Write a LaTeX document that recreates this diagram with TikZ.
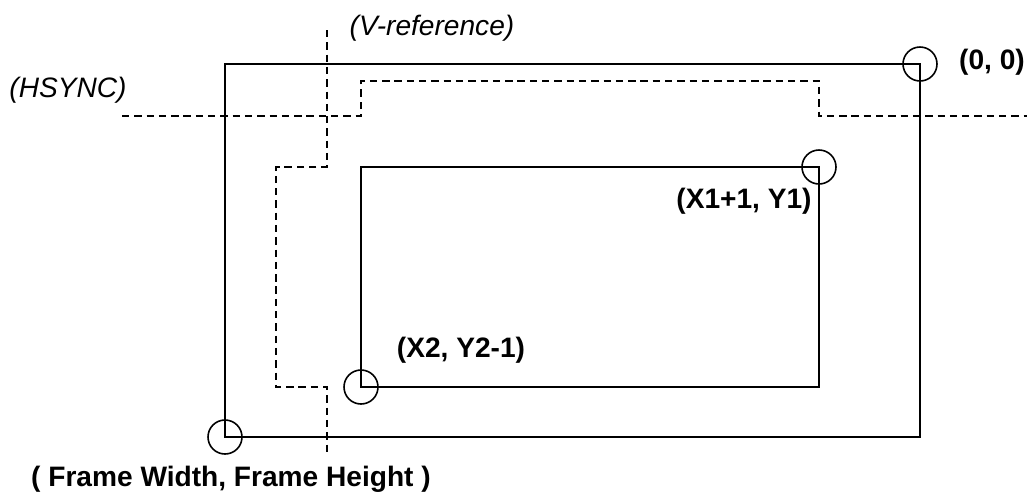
\documentclass[tikz,border=0pt]{standalone}
\usepackage{fontspec}
\setmainfont{Liberation Sans}

\begin{document}
\begin{tikzpicture}[%
        x = 0.02cm,
        y = -0.02cm,
        line width = 1.1pt,
        line cap = butt,
        frameline/.style = {%
            draw = black,
            line width = 1.1pt
        },
        syncline/.style = {%
            draw = black,
            line width = 1.1pt,
            dash pattern = on 4.2pt off 2.8pt
        },
        cornermark/.style = {%
            draw = black,
            line width = 0.9pt
        },
        coordlabel/.style = {%
            inner sep = 0pt,
            font = \bfseries\fontsize{16}{19}\selectfont
        },
        signallabel/.style = {%
            inner sep = 0pt,
            font = \itshape\fontsize{16}{19}\selectfont
        }
    ]

        % Fix the page to the reference size.
        \useasboundingbox (0, 0) rectangle (1027, 495);

        % Corners of the outer frame and of the active area.
        \coordinate (frameTR) at (920, 64);
        \coordinate (frameBL) at (225, 437);
        \coordinate (activeTR) at (819, 167);
        \coordinate (activeBL) at (361, 387);

        % Draw the outer frame and the active area.
        \draw[frameline] (frameBL) rectangle (frameTR);
        \draw[frameline] (activeBL) rectangle (activeTR);

        % Circles marking the corners.
        \draw[cornermark] (frameTR) circle (17);
        \draw[cornermark] (frameBL) circle (17);
        \draw[cornermark] (activeTR) circle (17);
        \draw[cornermark] (activeBL) circle (17);

        % Dashed HSYNC waveform.
        \coordinate (hsStart) at (122, 116);
        \coordinate (hsEnd) at (1027, 116);
        \draw[syncline] (hsStart) -- (activeBL |- hsStart) -- (361, 81)
            -- (819, 81) -- (activeTR |- hsEnd) -- (hsEnd);

        % Dashed V-reference waveform.
        \coordinate (vsStart) at (327, 30);
        \coordinate (vsEnd) at (327, 453);
        \draw[syncline] (vsStart) -- (vsStart |- activeTR) -- (276, 167)
            -- (276, 387) -- (vsEnd |- activeBL) -- (vsEnd);

        % Labels of the corners and of the signals.
        \node[coordlabel] (originLabel) at (992, 62) {(0, 0)};
        \node[coordlabel] (startLabel) at (744, 201) {(X1+1, Y1)};
        \node[coordlabel] (endLabel) at (461, 350) {(X2, Y2-1)};
        \node[coordlabel] (frameLabel) at (231, 479) {( Frame Width, Frame Height )};
        \node[signallabel] (hsyncLabel) at (68, 90) {(HSYNC)};
        \node[signallabel] (vrefLabel) at (432, 28) {(V-reference)};
    \end{tikzpicture}
\end{document}
